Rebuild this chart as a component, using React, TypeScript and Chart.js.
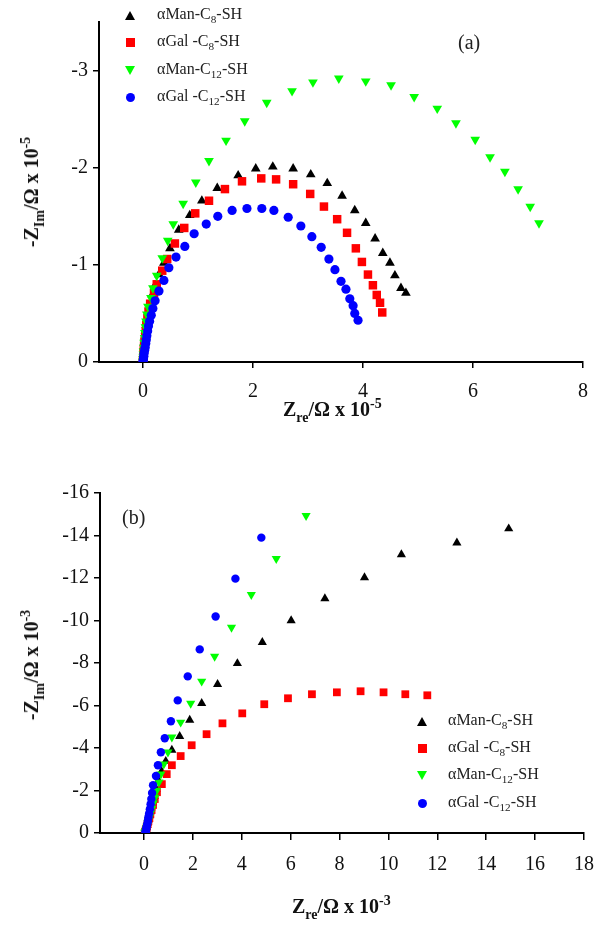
import React, { useEffect, useRef } from 'react';
import { Chart, registerables } from 'chart.js';
Chart.register(...registerables);

const FONT = '"Liberation Serif", "Times New Roman", serif';

// ---------- Panel (a): Z x 10^-5 ----------
const A_X_TICKS = [0, 2, 4, 6, 8];
const A_Y_TICKS = [0, -1, -2, -3];

const A_MAN_C8_X = [0, 0.004, 0.008, 0.012, 0.018, 0.025, 0.035, 0.045, 0.06, 0.08, 0.10, 0.13, 0.17, 0.22, 0.29, 0.38, 0.49, 0.65, 0.85, 1.07, 1.35, 1.73, 2.05, 2.36, 2.73, 3.05, 3.35, 3.62, 3.85, 4.05, 4.22, 4.36, 4.49, 4.58, 4.69, 4.78];
const A_MAN_C8_Y = [-0.02, -0.05, -0.08, -0.12, -0.16, -0.21, -0.26, -0.32, -0.38, -0.45, -0.52, -0.60, -0.69, -0.79, -0.90, -1.02, -1.17, -1.36, -1.51, -1.66, -1.79, -1.92, -1.99, -2.01, -1.99, -1.93, -1.84, -1.71, -1.56, -1.43, -1.27, -1.12, -1.02, -0.89, -0.76, -0.71];

const A_GAL_C8_X = [0, 0.003, 0.005, 0.01, 0.015, 0.02, 0.03, 0.04, 0.05, 0.06, 0.08, 0.10, 0.13, 0.20, 0.25, 0.35, 0.44, 0.58, 0.75, 0.95, 1.20, 1.49, 1.80, 2.15, 2.42, 2.73, 3.04, 3.29, 3.53, 3.71, 3.87, 3.98, 4.09, 4.18, 4.25, 4.31, 4.35];
const A_GAL_C8_Y = [-0.01, -0.03, -0.06, -0.09, -0.13, -0.17, -0.22, -0.27, -0.32, -0.38, -0.45, -0.52, -0.60, -0.71, -0.80, -0.94, -1.06, -1.22, -1.38, -1.53, -1.66, -1.78, -1.86, -1.89, -1.88, -1.83, -1.73, -1.60, -1.47, -1.33, -1.17, -1.03, -0.90, -0.79, -0.69, -0.61, -0.51];

const A_MAN_C12_X = [0, 0.003, 0.005, 0.008, 0.01, 0.015, 0.02, 0.03, 0.035, 0.045, 0.055, 0.07, 0.09, 0.145, 0.18, 0.25, 0.35, 0.45, 0.55, 0.73, 0.96, 1.20, 1.51, 1.85, 2.25, 2.71, 3.09, 3.56, 4.05, 4.51, 4.93, 5.35, 5.69, 6.04, 6.31, 6.58, 6.82, 7.04, 7.20];
const A_MAN_C12_Y = [-0.01, -0.03, -0.05, -0.08, -0.11, -0.15, -0.20, -0.25, -0.30, -0.36, -0.42, -0.49, -0.57, -0.66, -0.76, -0.89, -1.07, -1.25, -1.42, -1.63, -1.85, -2.07, -2.28, -2.48, -2.67, -2.79, -2.88, -2.92, -2.89, -2.85, -2.73, -2.61, -2.46, -2.29, -2.11, -1.96, -1.78, -1.60, -1.43];

const A_GAL_C12_X = [0, 0.005, 0.01, 0.015, 0.02, 0.03, 0.04, 0.05, 0.06, 0.07, 0.085, 0.10, 0.12, 0.15, 0.18, 0.22, 0.29, 0.38, 0.47, 0.60, 0.76, 0.93, 1.15, 1.36, 1.62, 1.89, 2.16, 2.38, 2.64, 2.87, 3.07, 3.24, 3.38, 3.49, 3.60, 3.69, 3.76, 3.82, 3.85, 3.91];
const A_GAL_C12_Y = [-0.005, -0.02, -0.04, -0.06, -0.09, -0.12, -0.15, -0.19, -0.23, -0.27, -0.32, -0.37, -0.42, -0.48, -0.55, -0.63, -0.73, -0.84, -0.97, -1.08, -1.19, -1.32, -1.42, -1.50, -1.56, -1.58, -1.58, -1.56, -1.49, -1.40, -1.29, -1.18, -1.06, -0.95, -0.83, -0.75, -0.65, -0.58, -0.50, -0.43];

// ---------- Panel (b): Z x 10^-3 ----------
const B_X_TICKS = [0, 2, 4, 6, 8, 10, 12, 14, 16, 18];
const B_Y_TICKS = [0, -2, -4, -6, -8, -10, -12, -14, -16];

const B_MAN_C8_X = [0.04, 0.05, 0.06, 0.08, 0.10, 0.12, 0.14, 0.17, 0.20, 0.24, 0.29, 0.35, 0.42, 0.50, 0.60, 0.72, 0.89, 1.14, 1.46, 1.87, 2.36, 3.01, 3.82, 4.84, 6.02, 7.40, 9.02, 10.53, 12.80, 14.92];
const B_MAN_C8_Y = [-0.02, -0.05, -0.10, -0.17, -0.26, -0.36, -0.48, -0.62, -0.79, -0.98, -1.20, -1.45, -1.74, -2.07, -2.45, -2.90, -3.38, -3.90, -4.55, -5.31, -6.10, -7.00, -7.98, -8.97, -10.0, -11.03, -12.02, -13.10, -13.66, -14.32];

const B_GAL_C8_X = [0.03, 0.04, 0.06, 0.08, 0.10, 0.12, 0.15, 0.18, 0.22, 0.26, 0.31, 0.37, 0.44, 0.53, 0.73, 0.93, 1.14, 1.50, 1.95, 2.56, 3.21, 4.02, 4.92, 5.89, 6.87, 7.89, 8.86, 9.80, 10.69, 11.59];
const B_GAL_C8_Y = [-0.01, -0.04, -0.08, -0.14, -0.22, -0.31, -0.42, -0.55, -0.70, -0.88, -1.08, -1.32, -1.60, -1.92, -2.30, -2.77, -3.19, -3.62, -4.13, -4.65, -5.16, -5.63, -6.06, -6.34, -6.53, -6.62, -6.67, -6.62, -6.53, -6.48];

const B_MAN_C12_X = [0.04, 0.05, 0.07, 0.09, 0.11, 0.13, 0.16, 0.19, 0.23, 0.27, 0.32, 0.38, 0.45, 0.52, 0.61, 0.69, 0.81, 0.98, 1.14, 1.50, 1.91, 2.36, 2.89, 3.58, 4.39, 5.41, 6.63];
const B_MAN_C12_Y = [-0.02, -0.05, -0.10, -0.17, -0.25, -0.35, -0.46, -0.60, -0.76, -0.94, -1.15, -1.40, -1.68, -2.00, -2.39, -2.77, -3.24, -3.80, -4.51, -5.21, -6.10, -7.14, -8.31, -9.67, -11.22, -12.91, -14.93];

const B_GAL_C12_X = [0.06, 0.07, 0.08, 0.09, 0.10, 0.12, 0.14, 0.16, 0.18, 0.21, 0.24, 0.27, 0.30, 0.33, 0.37, 0.49, 0.57, 0.69, 0.85, 1.10, 1.38, 1.79, 2.28, 2.93, 3.74, 4.80];
const B_GAL_C12_Y = [-0.02, -0.06, -0.11, -0.17, -0.25, -0.34, -0.45, -0.58, -0.74, -0.92, -1.12, -1.35, -1.60, -1.88, -2.25, -2.68, -3.19, -3.80, -4.46, -5.26, -6.24, -7.37, -8.64, -10.19, -11.97, -13.90];

// ---------- Series names / styles ----------
const SERIES_PREFIX = ['αMan-C', 'αGal -C', 'αMan-C', 'αGal -C'];
const SERIES_SUB = ['8', '8', '12', '12'];
const SERIES_COLOR = ['#000000', '#ff0000', '#00ff00', '#0000ff'];
const SERIES_STYLE = ['triangle', 'rect', 'triangle', 'circle'];
const SERIES_ROT = [0, 0, 180, 0];

function ds(i: number, xs: number[], ys: number[], radii: number[]) {
  return {
    label: SERIES_PREFIX[i] + SERIES_SUB[i] + '-SH',
    data: xs.map((x, k) => ({ x, y: ys[k] })),
    backgroundColor: SERIES_COLOR[i],
    borderColor: SERIES_COLOR[i],
    borderWidth: 0,
    pointBorderWidth: 0,
    pointStyle: SERIES_STYLE[i],
    pointRotation: SERIES_ROT[i],
    pointRadius: radii[i],
    pointHoverRadius: radii[i],
    showLine: false,
    order: 4 - i,
  };
}

function axis(min: number, max: number, ticks: number[], isX: boolean, size: number, pad: number, tl: number) {
  return {
    type: 'linear',
    min,
    max,
    reverse: !isX,
    afterBuildTicks: (s: any) => {
      s.ticks = ticks.map((v) => ({ value: v }));
    },
    afterFit: (s: any) => {
      if (isX) s.height = size;
      else s.width = size;
    },
    grid: { drawOnChartArea: false, drawTicks: true, tickLength: tl, color: '#000', lineWidth: 1.5 },
    border: { display: true, color: '#000', width: 2 },
    ticks: { font: { family: FONT, size: 20 }, color: '#111', padding: pad, maxRotation: 0, autoSkip: false },
  };
}

function Marker({ i, cx, cy, s }: { i: number; cx: number; cy: number; s: number }) {
  const c = SERIES_COLOR[i];
  const base: any = { position: 'absolute' };
  if (SERIES_STYLE[i] === 'triangle') {
    const w = s + 1;
    const h = s;
    const st: any = { ...base, left: cx - w / 2, top: cy - h / 2, width: 0, height: 0, borderLeft: `${w / 2}px solid transparent`, borderRight: `${w / 2}px solid transparent` };
    if (SERIES_ROT[i] === 180) st.borderTop = `${h}px solid ${c}`;
    else st.borderBottom = `${h}px solid ${c}`;
    return <div style={st} />;
  }
  const round = SERIES_STYLE[i] === 'circle';
  return <div style={{ ...base, left: cx - s / 2, top: cy - s / 2, width: s, height: s, background: c, borderRadius: round ? '50%' : 0 }} />;
}

function Legend({ mx, tx, ys }: { mx: number; tx: number; ys: number[] }) {
  return (
    <>
      {ys.map((cy, i) => (
        <React.Fragment key={i}>
          <Marker i={i} cx={mx} cy={cy} s={9} />
          <div style={{ position: 'absolute', left: tx, top: cy - 11, font: `16px ${FONT}`, lineHeight: '20px', whiteSpace: 'nowrap', color: '#222' }}>
            {SERIES_PREFIX[i]}
            <span style={{ fontSize: '0.7em', verticalAlign: '-0.35em' }}>{SERIES_SUB[i]}</span>-SH
          </div>
        </React.Fragment>
      ))}
    </>
  );
}

function XTitle({ left, top, exp }: { left: number; top: number; exp: string }) {
  return (
    <div style={{ position: 'absolute', left, top, font: `bold 20px ${FONT}`, lineHeight: '24px', whiteSpace: 'nowrap', color: '#111' }}>
      Z<span style={{ fontSize: '0.7em', verticalAlign: '-0.4em' }}>re</span>/Ω x 10
      <span style={{ fontSize: '0.7em', verticalAlign: '0.6em' }}>{exp}</span>
    </div>
  );
}

function YTitle({ cx, cy, exp }: { cx: number; cy: number; exp: string }) {
  return (
    <div style={{ position: 'absolute', left: cx, top: cy, transform: 'translate(-50%, -50%) rotate(-90deg)', font: `bold 20px ${FONT}`, lineHeight: '24px', whiteSpace: 'nowrap', color: '#111' }}>
      -Z<span style={{ fontSize: '0.7em', verticalAlign: '-0.4em' }}>Im</span>/Ω x 10
      <span style={{ fontSize: '0.7em', verticalAlign: '0.6em' }}>{exp}</span>
    </div>
  );
}

export default function App() {
  const refA = useRef<HTMLCanvasElement>(null);
  const refB = useRef<HTMLCanvasElement>(null);

  useEffect(() => {
    document.body.style.margin = '0';
    const radA = [5.6, 6, 5.6, 4.6];
    const radB = [5.3, 5.5, 5.3, 4.2];
    const common = (pad: any, xAxis: any, yAxis: any) => ({
      responsive: false,
      maintainAspectRatio: false,
      animation: false,
      layout: { padding: pad },
      plugins: { legend: { display: false }, tooltip: { enabled: false } },
      scales: { x: xAxis, y: yAxis },
    });
    const chartA = new Chart(refA.current as HTMLCanvasElement, {
      type: 'scatter',
      data: {
        datasets: [
          ds(0, A_MAN_C8_X, A_MAN_C8_Y, radA),
          ds(1, A_GAL_C8_X, A_GAL_C8_Y, radA),
          ds(2, A_MAN_C12_X, A_MAN_C12_Y, radA),
          ds(3, A_GAL_C12_X, A_GAL_C12_Y, radA),
        ],
      },
      options: common(
        { left: 0, top: 22, right: 24, bottom: 0 },
        axis(-0.8, 8, A_X_TICKS, true, 78, 12, 6),
        axis(-3.5, 0, A_Y_TICKS, false, 99, 5, 6)
      ) as any,
    });
    const chartB = new Chart(refB.current as HTMLCanvasElement, {
      type: 'scatter',
      data: {
        datasets: [
          ds(0, B_MAN_C8_X, B_MAN_C8_Y, radB),
          ds(1, B_GAL_C8_X, B_GAL_C8_Y, radB),
          ds(2, B_MAN_C12_X, B_MAN_C12_Y, radB),
          ds(3, B_GAL_C12_X, B_GAL_C12_Y, radB),
        ],
      },
      options: common(
        { left: 0, top: 53, right: 19, bottom: 0 },
        axis(-1.8, 18, B_X_TICKS, true, 93, 13, 7),
        axis(-16, 0, B_Y_TICKS, false, 100, 5, 6)
      ) as any,
    });
    return () => {
      chartA.destroy();
      chartB.destroy();
    };
  }, []);

  return (
    <div style={{ position: 'relative', width: 607, height: 926, background: '#fff', overflow: 'hidden' }}>
      <canvas ref={refA} width={607} height={440} style={{ position: 'absolute', left: 0, top: 0 }} />
      <canvas ref={refB} width={607} height={486} style={{ position: 'absolute', left: 0, top: 440 }} />
      <Legend mx={130} tx={157} ys={[15, 42, 70, 97]} />
      <Legend mx={422} tx={448} ys={[721, 748, 775, 803]} />
      <div style={{ position: 'absolute', left: 458, top: 30, font: `20px ${FONT}`, lineHeight: '24px', color: '#222' }}>(a)</div>
      <div style={{ position: 'absolute', left: 122, top: 505, font: `20px ${FONT}`, lineHeight: '24px', color: '#222' }}>(b)</div>
      <XTitle left={283} top={392} exp="-5" />
      <XTitle left={292} top={889} exp="-3" />
      <YTitle cx={33} cy={192} exp="-5" />
      <YTitle cx={33} cy={665} exp="-3" />
    </div>
  );
}
